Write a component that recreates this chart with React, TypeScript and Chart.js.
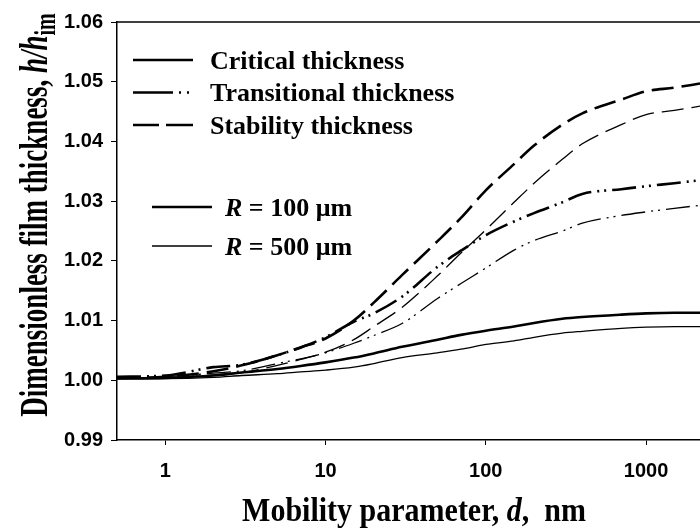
import React, { useEffect, useRef } from "react";
import { Chart, registerables } from "chart.js";

Chart.register(...registerables);

// Mobility parameter d (nm)
const dValues = [0.5, 1, 2, 3, 5, 7, 10, 15, 20, 30, 50, 70, 100, 150, 200, 300, 400, 700, 1000, 1500, 2170];

// Dimensionless film thickness h/h_im
const stability100 = [1.0004, 1.0006, 1.0015, 1.0025, 1.0042, 1.0055, 1.007, 1.01, 1.013, 1.0176, 1.0233, 1.0272, 1.0318, 1.0362, 1.0393, 1.0428, 1.0447, 1.047, 1.0484, 1.049, 1.0497];
const stability500 = [1.0003, 1.0004, 1.0009, 1.0013, 1.0025, 1.0035, 1.0047, 1.0068, 1.009, 1.0122, 1.0175, 1.0213, 1.0252, 1.0298, 1.033, 1.037, 1.0396, 1.0428, 1.0445, 1.0452, 1.0459];
const transitional100 = [1.0006, 1.0008, 1.0022, 1.0026, 1.0042, 1.0055, 1.0072, 1.0098, 1.0112, 1.014, 1.019, 1.0217, 1.0243, 1.0266, 1.028, 1.0298, 1.0312, 1.032, 1.0325, 1.033, 1.0335];
const transitional500 = [1.0005, 1.0006, 1.0012, 1.0016, 1.0028, 1.0036, 1.0046, 1.0062, 1.0075, 1.0095, 1.0137, 1.0162, 1.0188, 1.0218, 1.0234, 1.025, 1.0263, 1.0276, 1.0282, 1.0288, 1.0293];
const critical100 = [1.0003, 1.0004, 1.0008, 1.0013, 1.0019, 1.0024, 1.003, 1.0038, 1.0045, 1.0056, 1.0068, 1.0076, 1.0083, 1.009, 1.0096, 1.0103, 1.0106, 1.011, 1.0112, 1.0113, 1.0113];
const critical500 = [1.0003, 1.0003, 1.0005, 1.0008, 1.0011, 1.0014, 1.0017, 1.0022, 1.0028, 1.0038, 1.0046, 1.0052, 1.006, 1.0066, 1.0072, 1.0079, 1.0082, 1.0087, 1.0089, 1.009, 1.009];

const xTickValues = [1, 10, 100, 1000];
const typeLabels = ["Critical thickness", "Transitional thickness", "Stability thickness"];
const radiusLabels = ["100", "500"];

const SERIF = "'Liberation Serif', 'Times New Roman', serif";
const SANS = "'Liberation Sans', Arial, sans-serif";

const DASH_TRANS = [24, 6, 2, 5, 2, 6];
const DASH_STAB = [22, 8];

const toPts = (ys: number[]) => dValues.map((x, i) => ({ x, y: ys[i] }));

type Run = { text: string; font: string; dy?: number };

function drawRuns(ctx: CanvasRenderingContext2D, runs: Run[], x: number, y: number, align: "left" | "center") {
  let total = 0;
  const widths = runs.map((r) => {
    ctx.font = r.font;
    const w = ctx.measureText(r.text).width;
    total += w;
    return w;
  });
  let cx = align === "center" ? x - total / 2 : x;
  runs.forEach((r, i) => {
    ctx.font = r.font;
    ctx.fillText(r.text, cx, y + (r.dy || 0));
    cx += widths[i];
  });
}

const decorPlugin = {
  id: "decor",
  afterDraw(chart: any) {
    const ctx: CanvasRenderingContext2D = chart.ctx;
    const { left, right, top } = chart.chartArea;
    ctx.save();
    // top frame line
    ctx.strokeStyle = "#000";
    ctx.lineWidth = 1.5;
    ctx.beginPath();
    ctx.moveTo(left, top);
    ctx.lineTo(right, top);
    ctx.stroke();

    // legend: line types
    ctx.fillStyle = "#000";
    ctx.textBaseline = "alphabetic";
    const dashes = [[], [40, 6, 2, 6, 2, 200], [26, 7, 40]];
    typeLabels.forEach((lab, i) => {
      const y = 60 + i * 32.5;
      ctx.setLineDash(dashes[i]);
      ctx.lineWidth = 2.5;
      ctx.beginPath();
      ctx.moveTo(133, y);
      ctx.lineTo(193, y);
      ctx.stroke();
      ctx.setLineDash([]);
      ctx.font = `bold 26px ${SERIF}`;
      ctx.fillText(lab, 210, y + 8.5);
    });

    // legend: radii
    radiusLabels.forEach((r, i) => {
      const y = 207 + i * 39;
      ctx.lineWidth = i === 0 ? 2.5 : 1.3;
      ctx.beginPath();
      ctx.moveTo(152, y);
      ctx.lineTo(212, y);
      ctx.stroke();
      drawRuns(
        ctx,
        [
          { text: "R", font: `italic bold 26px ${SERIF}` },
          { text: ` = ${r} \u03bcm`, font: `bold 26px ${SERIF}` },
        ],
        225,
        y + 9,
        "left"
      );
    });

    // x-axis title
    ctx.save();
    ctx.translate(414, 521);
    ctx.scale(1, 1.12);
    drawRuns(
      ctx,
      [
        { text: "Mobility parameter, ", font: `bold 30px ${SERIF}` },
        { text: "d", font: `italic bold 30px ${SERIF}` },
        { text: ",  nm", font: `bold 30px ${SERIF}` },
      ],
      0,
      0,
      "center"
    );
    ctx.restore();

    // y-axis title
    ctx.save();
    ctx.translate(47, 215);
    ctx.rotate(-Math.PI / 2);
    ctx.scale(1, 1.5);
    drawRuns(
      ctx,
      [
        { text: "Dimensionless film thickness, ", font: `bold 27px ${SERIF}` },
        { text: "h/h", font: `italic bold 27px ${SERIF}` },
        { text: "im", font: `bold 20px ${SERIF}`, dy: 5 },
      ],
      0,
      0,
      "center"
    );
    ctx.restore();
    ctx.restore();
  },
};

export default function App() {
  const ref = useRef<HTMLCanvasElement | null>(null);
  useEffect(() => {
    if (!ref.current) return;
    const thick = 2.6;
    const thin = 1.3;
    const common = { pointRadius: 0, borderColor: "#000", fill: false, cubicInterpolationMode: "monotone" as const };
    const chart = new Chart(ref.current, {
      type: "line",
      data: {
        datasets: [
          { ...common, label: "Critical R=100", data: toPts(critical100), borderWidth: thick },
          { ...common, label: "Critical R=500", data: toPts(critical500), borderWidth: thin },
          { ...common, label: "Transitional R=100", data: toPts(transitional100), borderWidth: thick, borderDash: DASH_TRANS },
          { ...common, label: "Transitional R=500", data: toPts(transitional500), borderWidth: thin, borderDash: DASH_TRANS },
          { ...common, label: "Stability R=100", data: toPts(stability100), borderWidth: thick, borderDash: DASH_STAB },
          { ...common, label: "Stability R=500", data: toPts(stability500), borderWidth: thin, borderDash: DASH_STAB },
        ],
      },
      options: {
        animation: false,
        responsive: false,
        layout: { padding: { top: 22, right: 0, left: 0, bottom: 0 } },
        plugins: { legend: { display: false }, tooltip: { enabled: false }, title: { display: false } },
        scales: {
          x: {
            type: "logarithmic",
            min: 0.5,
            max: 2170,
            afterBuildTicks: (scale: any) => {
              scale.ticks = xTickValues.map((v) => ({ value: v }));
            },
            afterFit: (scale: any) => {
              scale.height = 88;
            },
            ticks: {
              color: "#000",
              font: { family: SANS, size: 20, weight: "bold" },
              padding: 14,
              maxRotation: 0,
              autoSkip: false,
              callback: (v: any) => String(v),
            },
            grid: { display: true, drawOnChartArea: false, drawTicks: true, tickLength: 5, color: "#000", lineWidth: 1 },
            border: { display: true, color: "#000", width: 1.5 },
          },
          y: {
            min: 0.99,
            max: 1.06,
            afterFit: (scale: any) => {
              scale.width = 117;
            },
            ticks: {
              stepSize: 0.01,
              color: "#000",
              font: { family: SANS, size: 20, weight: "bold" },
              padding: 8,
              callback: (v: any) => Number(v).toFixed(2),
            },
            grid: { display: true, drawOnChartArea: false, drawTicks: true, tickLength: 6, color: "#000", lineWidth: 1 },
            border: { display: true, color: "#000", width: 1.5 },
          },
        },
      },
      plugins: [decorPlugin],
    });
    return () => chart.destroy();
  }, []);
  return (
    <div style={{ position: "fixed", left: 0, top: 0, width: 700, height: 528, background: "#fff" }}>
      <canvas ref={ref} width={700} height={528} style={{ display: "block" }} />
    </div>
  );
}
